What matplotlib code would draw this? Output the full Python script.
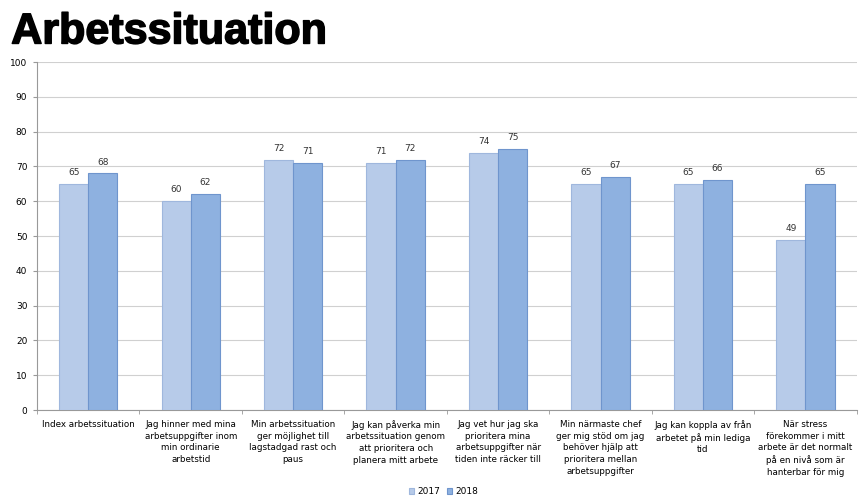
import numpy as np
import matplotlib
matplotlib.use('Agg')
import matplotlib.pyplot as plt
import matplotlib.patheffects as pe

# Categories and values
categories = [
    "Index arbetssituation",
    "Jag hinner med mina\narbetsuppgifter inom\nmin ordinarie\narbetstid",
    "Min arbetssituation\nger möjlighet till\nlagstadgad rast och\npaus",
    "Jag kan påverka min\narbetssituation genom\natt prioritera och\nplanera mitt arbete",
    "Jag vet hur jag ska\nprioritera mina\narbetsuppgifter när\ntiden inte räcker till",
    "Min närmaste chef\nger mig stöd om jag\nbehöver hjälp att\nprioritera mellan\narbetsuppgifter",
    "Jag kan koppla av från\narbetet på min lediga\ntid",
    "När stress\nförekommer i mitt\narbete är det normalt\npå en nivå som är\nhanterbar för mig",
]
values_2017 = [65, 60, 72, 71, 74, 65, 65, 49]
values_2018 = [68, 62, 71, 72, 75, 67, 66, 65]

fig = plt.figure(figsize=(8.61, 4.97), dpi=100)
ax = fig.add_axes([0.043, 0.175, 0.952, 0.7])

# Title (heavy look via a thin stroke)
fig.text(0.013, 0.975, "Arbetssituation", fontsize=31, fontweight='bold',
         family='Liberation Sans', va='top', ha='left',
         path_effects=[pe.withStroke(linewidth=1.1, foreground='black')])

x = np.arange(len(categories))
w = 0.285
b1 = ax.bar(x - w / 2, values_2017, w, color='#b7cbe9', edgecolor='#9fb7dd',
            linewidth=0.8, label='2017', zorder=3)
b2 = ax.bar(x + w / 2, values_2018, w, color='#8eb1e0', edgecolor='#6f95cd',
            linewidth=0.8, label='2018', zorder=3)
ax.bar_label(b1, padding=5, fontsize=6.5, color='#333333')
ax.bar_label(b2, padding=5, fontsize=6.5, color='#333333')

ax.set_xlim(-0.5, len(categories) - 0.5)
ax.set_ylim(0, 100)
ax.set_yticks(range(0, 101, 10))
ax.tick_params(axis='y', labelsize=6.5, length=3, color='#999999', pad=4)
ax.set_xticks(x)
ax.set_xticklabels(categories, fontsize=6.3, linespacing=1.4)
ax.tick_params(axis='x', length=0, pad=7)
ax.set_xticks(np.arange(-0.5, len(categories), 1), minor=True)
ax.tick_params(axis='x', which='minor', length=3, color='#999999')

ax.grid(axis='y', color='#d0d0d0', linewidth=0.8, zorder=0)
for s in ['top', 'right']:
    ax.spines[s].set_visible(False)
ax.spines['left'].set_color('#999999')
ax.spines['bottom'].set_color('#999999')

fig.legend(handles=[b1, b2], labels=['2017', '2018'], loc='lower center',
           bbox_to_anchor=(0.515, -0.015), ncol=2, frameon=False, fontsize=6.5,
           handlelength=0.6, handleheight=0.6, handletextpad=0.3, columnspacing=0.8)

fig.savefig('out.png', dpi=100)
